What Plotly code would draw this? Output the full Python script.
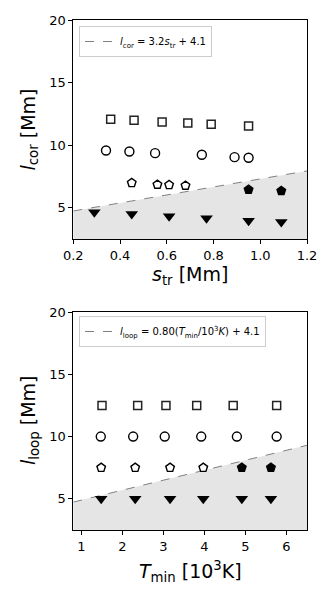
import plotly.graph_objects as go
from plotly.subplots import make_subplots

# --- panel 1: l_cor vs s_tr ---
s_sq = [0.36, 0.46, 0.58, 0.69, 0.79, 0.95]
l_sq = [12.06, 11.98, 11.84, 11.76, 11.66, 11.52]
s_ci = [0.34, 0.44, 0.55, 0.75, 0.89, 0.95]
l_ci = [9.57, 9.49, 9.36, 9.23, 9.04, 8.99]
s_pe = [0.45, 0.56, 0.61, 0.68, 0.95, 1.09]
l_pe = [6.98, 6.85, 6.82, 6.77, 6.45, 6.34]
pe_filled_1 = [False, False, False, False, True, True]
s_tr = [0.29, 0.45, 0.61, 0.77, 0.95, 1.09]
l_tr = [4.63, 4.50, 4.31, 4.15, 3.96, 3.86]
fit1 = (3.2, 4.1)
xlim1 = [0.2, 1.2]

# --- panel 2: l_loop vs T_min ---
t_sq = [1.50, 2.37, 3.06, 3.81, 4.70, 5.76]
t_ci = [1.47, 2.26, 3.03, 3.92, 4.79, 5.76]
t_pe = [1.48, 2.31, 3.16, 3.97, 4.91, 5.62]
t_tr = [1.48, 2.31, 3.16, 3.97, 4.91, 5.62]
loop_sq = [12.5] * 6
loop_ci = [10.0] * 6
loop_pe = [7.5] * 6
loop_tr = [5.0] * 6
pe_filled_2 = [False, False, False, False, True, True]
fit2 = (0.80, 4.1)
xlim2 = [0.8, 6.5]

ylim = [2.5, 20]
FONT = 'DejaVu Sans'

# page body adds an 8px margin, so the figure is drawn slightly smaller
W, H, OFF = 325, 592, 8


def px_x(p):
    return (p - OFF) / W


def px_y(p):
    return 1 - (p - OFF) / H


fig = make_subplots(rows=2, cols=1)


def add_panel(row, xs, filled, fit, xlim, legend, label):
    a, b = fit
    # shaded region below the fit line
    fig.add_trace(go.Scatter(
        x=xlim, y=[a * v + b for v in xlim], mode='lines',
        line=dict(width=0), fill='tozeroy', fillcolor='#e5e5e5',
        showlegend=False, hoverinfo='skip'), row=row, col=1)
    fig.add_trace(go.Scatter(
        x=xlim, y=[a * v + b for v in xlim], mode='lines',
        line=dict(color='#808080', width=1, dash='dash'),
        name=label, legend=legend), row=row, col=1)

    (xsq, ysq), (xci, yci), (xpe, ype), (xtr, ytr) = xs
    fig.add_trace(go.Scatter(
        x=xsq, y=ysq, mode='markers', showlegend=False,
        marker=dict(symbol='square', size=8, color='white',
                    line=dict(color='#222222', width=1.5))), row=row, col=1)
    fig.add_trace(go.Scatter(
        x=xci, y=yci, mode='markers', showlegend=False,
        marker=dict(symbol='circle', size=9, color='white',
                    line=dict(color='black', width=1.4))), row=row, col=1)
    fig.add_trace(go.Scatter(
        x=xpe, y=ype, mode='markers', showlegend=False,
        marker=dict(symbol='pentagon', size=9,
                    color=['black' if f else 'white' for f in filled],
                    line=dict(color='black', width=1.4))), row=row, col=1)
    fig.add_trace(go.Scatter(
        x=xtr, y=ytr, mode='markers', showlegend=False,
        marker=dict(symbol='triangle-down', size=11, color='black',
                    line=dict(width=0))), row=row, col=1)


add_panel(1, [(s_sq, l_sq), (s_ci, l_ci), (s_pe, l_pe), (s_tr, l_tr)],
          pe_filled_1, fit1, xlim1, 'legend',
          '<i>l</i><sub>cor</sub> = 3.2<i>s</i><sub>tr</sub> + 4.1')
add_panel(2, [(t_sq, loop_sq), (t_ci, loop_ci), (t_pe, loop_pe), (t_tr, loop_tr)],
          pe_filled_2, fit2, xlim2, 'legend2',
          '<i>l</i><sub>loop</sub> = 0.80(<i>T</i><sub>min</sub>/10<sup>3</sup><i>K</i>) + 4.1')

axis_style = dict(showline=True, linecolor='black', linewidth=1, mirror=True,
                  ticks='outside', ticklen=4, tickcolor='black',
                  showgrid=False, zeroline=False, automargin=False,
                  tickfont=dict(family=FONT, size=13, color='black'))

fig.update_xaxes(**axis_style)
fig.update_yaxes(**axis_style)

xdom = [px_x(73.3), px_x(307)]
fig.update_xaxes(range=xlim1, dtick=0.2, tick0=0.2, tickformat='.1f',
                 domain=xdom, row=1, col=1)
fig.update_yaxes(range=ylim, tickvals=[5, 10, 15, 20],
                 domain=[px_y(239), px_y(20)], row=1, col=1)
fig.update_xaxes(range=xlim2, tickvals=[1, 2, 3, 4, 5, 6],
                 domain=xdom, row=2, col=1)
fig.update_yaxes(range=ylim, tickvals=[5, 10, 15, 20],
                 domain=[px_y(530), px_y(312)], row=2, col=1)

# axis titles as annotations for exact placement
title_font = dict(family=FONT, size=19, color='black')
titles = [
    ('<i>s</i><sub>tr</sub> [Mm]', px_x(190), px_y(275), 0),
    ('<i>l</i><sub>cor</sub> [Mm]', px_x(29), px_y(129.5), -90),
    ('<i>T</i><sub>min</sub> [10<sup>3</sup>K]', px_x(190), px_y(571), 0),
    ('<i>l</i><sub>loop</sub> [Mm]', px_x(29), px_y(421), -90),
]
for text, x, y, ang in titles:
    fig.add_annotation(text=text, x=x, y=y, xref='paper', yref='paper',
                       xanchor='center', yanchor='middle', textangle=ang,
                       showarrow=False, font=title_font)

legend_style = dict(bgcolor='rgba(255,255,255,0.8)', bordercolor='#cccccc',
                    borderwidth=1, font=dict(family=FONT, size=10, color='black'),
                    xanchor='left', yanchor='top', itemwidth=30,
                    tracegroupgap=0)

fig.update_layout(
    width=W, height=H,
    margin=dict(l=0, r=0, t=0, b=0),
    paper_bgcolor='white', plot_bgcolor='white',
    font=dict(family=FONT, color='black'),
    legend=dict(x=px_x(79), y=px_y(26), **legend_style),
    legend2=dict(x=px_x(79), y=px_y(316), **legend_style),
)

fig.write_html("out.html")
